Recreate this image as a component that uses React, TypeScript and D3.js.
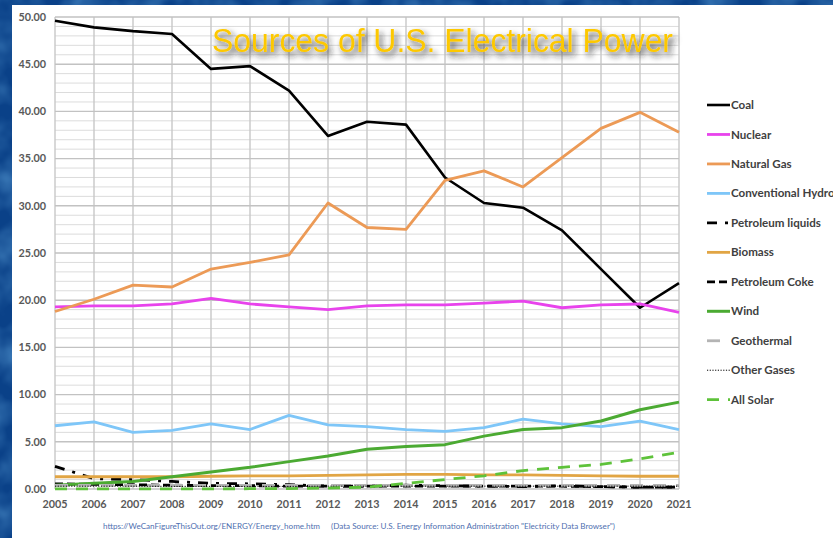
import React from "react";
import * as d3 from "d3";

const years = [2005, 2006, 2007, 2008, 2009, 2010, 2011, 2012, 2013, 2014, 2015, 2016, 2017, 2018, 2019, 2020, 2021];
const coal = [49.6, 48.9, 48.5, 48.2, 44.5, 44.8, 42.2, 37.4, 38.9, 38.6, 33.0, 30.3, 29.8, 27.4, 23.3, 19.2, 21.8];
const nuclear = [19.3, 19.4, 19.4, 19.6, 20.2, 19.6, 19.3, 19.0, 19.4, 19.5, 19.5, 19.7, 19.9, 19.2, 19.5, 19.6, 18.7];
const naturalGas = [18.8, 20.1, 21.6, 21.4, 23.3, 24.0, 24.8, 30.3, 27.7, 27.5, 32.7, 33.7, 32.0, 35.1, 38.2, 39.9, 37.8];
const hydro = [6.7, 7.1, 6.0, 6.2, 6.9, 6.3, 7.8, 6.8, 6.6, 6.3, 6.1, 6.5, 7.4, 6.9, 6.6, 7.2, 6.3];
const petroleumLiquids = [2.4, 1.1, 1.0, 0.8, 0.6, 0.55, 0.45, 0.3, 0.3, 0.4, 0.35, 0.3, 0.25, 0.35, 0.25, 0.2, 0.2];
const biomass = [1.3, 1.3, 1.3, 1.3, 1.35, 1.4, 1.4, 1.45, 1.5, 1.55, 1.55, 1.5, 1.5, 1.45, 1.4, 1.35, 1.35];
const petroleumCoke = [0.55, 0.5, 0.45, 0.4, 0.35, 0.35, 0.3, 0.3, 0.3, 0.3, 0.3, 0.3, 0.3, 0.3, 0.25, 0.2, 0.2];
const wind = [0.4, 0.6, 0.8, 1.3, 1.8, 2.3, 2.9, 3.5, 4.2, 4.5, 4.7, 5.6, 6.3, 6.5, 7.2, 8.4, 9.2];
const geothermal = [0.38, 0.38, 0.38, 0.38, 0.38, 0.38, 0.38, 0.38, 0.38, 0.38, 0.38, 0.38, 0.38, 0.38, 0.38, 0.38, 0.38];
const otherGases = [0.3, 0.3, 0.3, 0.28, 0.28, 0.28, 0.28, 0.3, 0.3, 0.3, 0.3, 0.3, 0.3, 0.3, 0.3, 0.3, 0.3];
const allSolar = [0.02, 0.02, 0.02, 0.02, 0.02, 0.03, 0.05, 0.1, 0.2, 0.6, 1.0, 1.4, 1.95, 2.3, 2.6, 3.2, 3.9];

const yTicks = [0, 5, 10, 15, 20, 25, 30, 35, 40, 45, 50];

const seriesNames = ["Coal", "Nuclear", "Natural Gas", "Conventional Hydro", "Petroleum liquids", "Biomass", "Petroleum Coke", "Wind", "Geothermal", "Other Gases", "All Solar"];
const seriesValues = [coal, nuclear, naturalGas, hydro, petroleumLiquids, biomass, petroleumCoke, wind, geothermal, otherGases, allSolar];

const styles = [
  { color: "#000000", width: 2.6, dash: "" },
  { color: "#E843EC", width: 2.8, dash: "" },
  { color: "#EC9A56", width: 2.8, dash: "" },
  { color: "#7EC6F8", width: 2.8, dash: "" },
  { color: "#000000", width: 2.8, dash: "10 8 3 8" },
  { color: "#E1A544", width: 2.8, dash: "" },
  { color: "#000000", width: 2.8, dash: "8 4" },
  { color: "#4BAA32", width: 3, dash: "" },
  { color: "#B4B4B4", width: 2.8, dash: "13 10" },
  { color: "#000000", width: 1, dash: "1.2 1.5" },
  { color: "#5EC23A", width: 2.8, dash: "12 9" },
];

export default function App() {
  const W = 833, H = 538;
  const x = d3.scaleLinear().domain([2005, 2021]).range([55, 679]);
  const y = d3.scaleLinear().domain([0, 50]).range([489, 17]);
  const minor = d3.range(0, 51, 1);
  const line = d3.line<number>().x((_, i) => x(years[i])).y((d) => y(d));
  const legendY = d3.scaleLinear().domain([0, 10]).range([105, 399.7]);
  const font = "Lato, 'Open Sans', sans-serif";

  return (
    <svg width={W} height={H} style={{ position: "fixed", left: 0, top: 0 }} xmlns="http://www.w3.org/2000/svg">
      <defs>
        <filter id="tex" x="0" y="0" width="100%" height="100%">
          <feTurbulence type="fractalNoise" baseFrequency="0.03" numOctaves="3" seed="5" result="n" />
          <feColorMatrix in="n" type="matrix" values="0 0 0 0 0.12  0 0 0 0 0.38  0 0 0 0 0.72  0 0 0 0.9 -0.3" />
        </filter>
        <filter id="shadow" x="-10%" y="-50%" width="120%" height="200%">
          <feDropShadow dx="3" dy="4" stdDeviation="3" floodColor="#222" floodOpacity="0.85" />
        </filter>
        <clipPath id="clipAll">
          <rect x={0} y={0} width={W} height={H} />
        </clipPath>
      </defs>
      <rect x={0} y={0} width={W} height={H} fill="#0a4188" />
      <rect x={0} y={0} width={W} height={H} filter="url(#tex)" />
      <rect x={12} y={5} width={W - 12} height={H - 5} fill="#ffffff" />

      {minor.filter((v) => v % 5 !== 0).map((v) => (
        <line key={"mn" + v} x1={55} x2={679} y1={y(v)} y2={y(v)} stroke="#dcdcdc" strokeWidth={1} />
      ))}
      {years.map((yr) => (
        <line key={"vx" + yr} x1={x(yr)} x2={x(yr)} y1={17} y2={489} stroke="#c8c8c8" strokeWidth={1.4} />
      ))}
      {yTicks.map((v) => (
        <line key={"mj" + v} x1={55} x2={679} y1={y(v)} y2={y(v)} stroke="#c2c2c2" strokeWidth={1.4} />
      ))}

      {yTicks.map((v) => (
        <text key={"yl" + v} x={46} y={y(v)} dy="0.35em" textAnchor="end" fontFamily={font} fontWeight={700} fontSize={10.8} fill="#595959">
          {v.toFixed(2)}
        </text>
      ))}
      {years.map((yr) => (
        <text key={"xl" + yr} x={x(yr)} y={508} textAnchor="middle" fontFamily={font} fontWeight={700} fontSize={10.8} fill="#595959">
          {yr}
        </text>
      ))}

      {seriesValues.map((vals, i) => (
        <path key={"s" + i} d={line(vals) || ""} fill="none" stroke={styles[i].color} strokeWidth={styles[i].width}
          strokeDasharray={styles[i].dash || undefined} strokeLinejoin="round" />
      ))}

      <text x={212} y={52} fontFamily="'Liberation Sans', Arial, sans-serif" fontSize={33} fill="#FDC800" filter="url(#shadow)"
        textLength={461} lengthAdjust="spacingAndGlyphs">
        Sources of U.S. Electrical Power
      </text>

      <g clipPath="url(#clipAll)">
        {seriesNames.map((name, i) => {
          const ly = legendY(i);
          return (
            <g key={"lg" + i}>
              <line x1={707} x2={730} y1={ly} y2={ly} stroke={styles[i].color} strokeWidth={styles[i].width}
                strokeDasharray={styles[i].dash || undefined} />
              <text x={731} y={ly} dy="0.35em" fontFamily={font} fontWeight={700} fontSize={11.6} fill="#404040">
                {name}
              </text>
            </g>
          );
        })}
      </g>

      <text x={103} y={529} fontFamily={font} fontSize={7.5} fill="#4f6fb0" textLength={217} lengthAdjust="spacingAndGlyphs">
        https://WeCanFigureThisOut.org/ENERGY/Energy_home.htm
      </text>
      <text x={331} y={529} fontFamily={font} fontSize={7.5} fill="#4f6fb0" textLength={284} lengthAdjust="spacingAndGlyphs">
        (Data Source: U.S. Energy Information Administration "Electricity Data Browser")
      </text>
    </svg>
  );
}
